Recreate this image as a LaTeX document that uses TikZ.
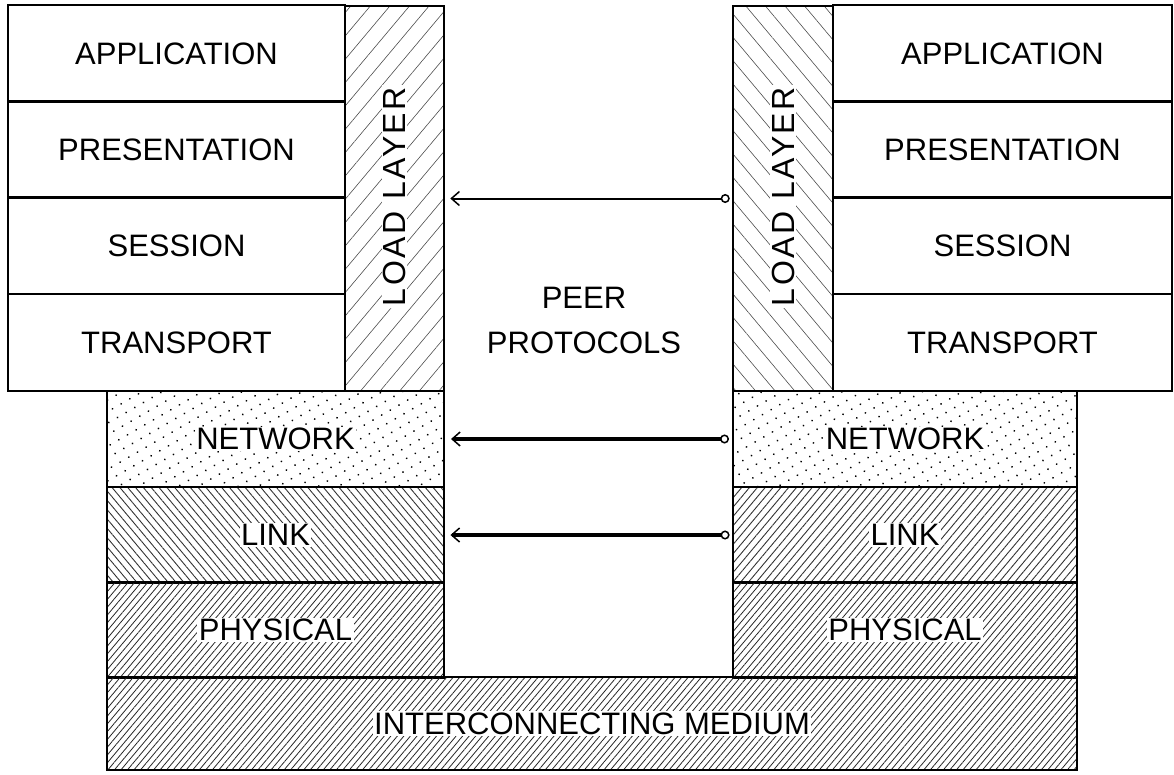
\documentclass[tikz,border=0pt]{standalone}
\usepackage{fontspec}
\setmainfont{Liberation Sans}
\newfontfamily\spacedfont[LetterSpace=8]{Liberation Sans}
\usetikzlibrary{patterns.meta,arrows.meta}
\begin{document}
\begin{tikzpicture}[x=1pt,y=-1pt,
  layer/.style={draw,line width=2pt,inner sep=0pt,minimum width=#1,minimum height=96.25pt,font=\fontsize{31}{36}\selectfont},
  tag/.style={fill=white,inner sep=1.5pt,font=\fontsize{31}{36}\selectfont},
  hatchload/.style={pattern={Lines[angle=#1,distance=15pt,line width=0.6pt]},pattern color=black!70},
  dotted net/.style={pattern={Dots[distance=10pt,radius=1pt,angle=30]}},
  hatchlink/.style={pattern={Lines[angle=#1,distance=6pt,line width=0.9pt]},pattern color=black!80},
  hatchphys/.style={pattern={Lines[angle=50,distance=5pt,line width=0.8pt]},pattern color=black!85},
  peer/.style={line width=#1,shorten <=6pt,shorten >=3pt,{Straight Barb[length=8pt,width=14pt,line width=1.5pt]}-{Circle[open,length=9pt,line width=1.5pt]}}]
\useasboundingbox (0,0) rectangle (1174,774);
% left stack
\node[layer=337] (appL) at (176.5,53.5) {APPLICATION};
\node[layer=337] (presL) at (176.5,149.5) {PRESENTATION};
\node[layer=337] (sessL) at (176.5,245.5) {SESSION};
\node[layer=337] (transL) at (176.5,342.5) {TRANSPORT};
\node[layer=99,minimum height=385pt,hatchload=50] (loadL) at (394.5,198.5) {};
\node[tag,rotate=90,font=\spacedfont\fontsize{32}{36}\selectfont] (loadLtxt) at ([yshift=2pt]loadL.center) {LOAD LAYER};
\node[layer=337,dotted net,label={[tag]center:NETWORK}] (netL) at (275.5,439) {};
\node[layer=337,hatchlink=130,label={[tag]center:LINK}] (linkL) at (275.5,535) {};
\node[layer=337,hatchphys,label={[tag]center:PHYSICAL}] (physL) at (275.5,630) {};
% right stack
\node[layer=339] (appR) at (1002.5,53.5) {APPLICATION};
\node[layer=339] (presR) at (1002.5,149.5) {PRESENTATION};
\node[layer=339] (sessR) at (1002.5,245.5) {SESSION};
\node[layer=339] (transR) at (1002.5,342.5) {TRANSPORT};
\node[layer=100,minimum height=385pt,hatchload=130] (loadR) at (783,198.5) {};
\node[tag,rotate=90,font=\spacedfont\fontsize{32}{36}\selectfont] (loadRtxt) at ([yshift=2pt]loadR.center) {LOAD LAYER};
\node[layer=344,dotted net,label={[tag]center:NETWORK}] (netR) at (905,439) {};
\node[layer=344,hatchlink=50,label={[tag]center:LINK}] (linkR) at (905,535) {};
\node[layer=344,hatchphys,label={[tag]center:PHYSICAL}] (physR) at (905,630) {};
% medium
\node[layer=970,minimum height=93pt,hatchphys,label={[tag]center:INTERCONNECTING MEDIUM}] (medium) at (592,723.5) {};
\node[font=\fontsize{31}{36}\selectfont,align=center] (peertxt) at (584,320) {PEER\\[9pt]PROTOCOLS};
\draw[peer=2pt] (loadL.east) -- (loadR.west);
\draw[peer=3.5pt] (netL.east) -- (netR.west);
\draw[peer=3.5pt] (linkL.east) -- (linkR.west);
\end{tikzpicture}
\end{document}
